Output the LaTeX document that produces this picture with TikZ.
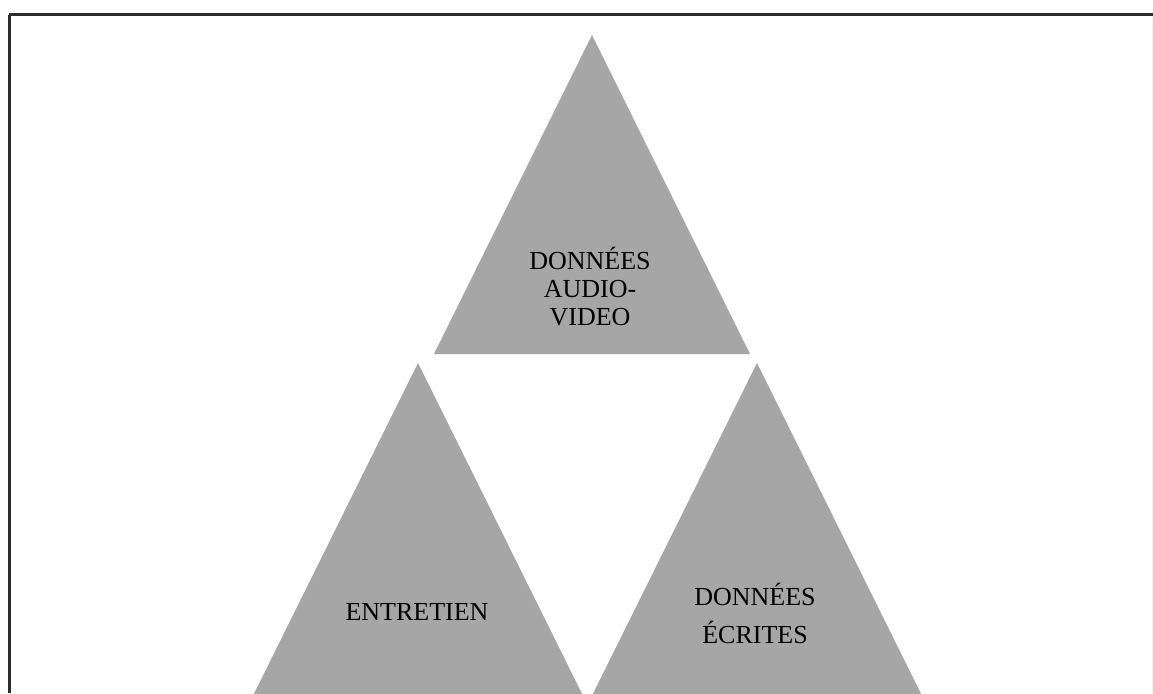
\documentclass[tikz,border=0pt]{standalone}
\usepackage{fontspec}
\setmainfont{Liberation Serif}
\definecolor{trigray}{RGB}{166,166,166}
\definecolor{framegray}{RGB}{45,45,45}
\tikzset{
  tri/.style={fill=trigray, draw=none},
  frameline/.style={draw=framegray, line width=3pt},
  label/.style={align=center, inner sep=0pt, font=\fontsize{26}{28}\selectfont, text=black},
}
\begin{document}
\begin{tikzpicture}[x=1pt,y=-1pt]
\useasboundingbox (0,0) rectangle (1153,693);
\clip (0,0) rectangle (1153,693);
\fill[white] (0,0) rectangle (1153,693);
% triangles
\path[tri] (592,35) -- (750,354) -- (434,354) -- cycle;
\path[tri] (418,363) -- (598,726) -- (238,726) -- cycle;
\path[tri] (757,363) -- (937,726) -- (577,726) -- cycle;
% frame
\draw[frameline] (9,15) -- (1153,15);
\draw[frameline] (9,15) -- (9,693);
\draw[draw=black!6, line width=1pt] (1152.5,17) -- (1152.5,693);
% labels
\node[label] (av) at (590,287) {DONNÉES\\AUDIO-\\VIDEO};
\node[label] (en) at (417,612) {ENTRETIEN};
\node[label, font=\fontsize{26}{38}\selectfont] (ec) at (755,613) {DONNÉES\\ÉCRITES};
\end{tikzpicture}
\end{document}
